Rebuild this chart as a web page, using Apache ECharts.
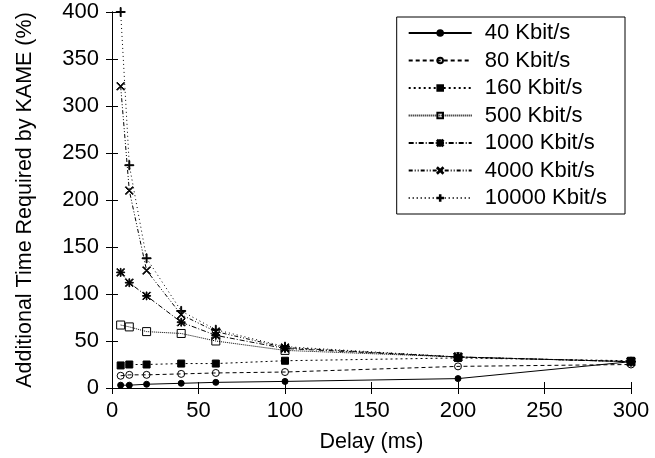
<!DOCTYPE html>
<html><head><meta charset="utf-8">
<script src="https://cdn.jsdelivr.net/npm/echarts@6/dist/echarts.min.js"></script>
<style>html,body{margin:0;padding:0;background:#fff}#c{width:655px;height:458px}</style>
</head><body><div id="c"></div>
<script>
// ---- data ----
const delays = [5, 10, 20, 40, 60, 100, 200, 300];
const seriesNames = ['40 Kbit/s', '80 Kbit/s', '160 Kbit/s', '500 Kbit/s', '1000 Kbit/s', '4000 Kbit/s', '10000 Kbit/s'];
const kbit40 = [3, 3, 4, 5, 6, 7, 10, 28];
const kbit80 = [13, 14, 14, 15, 16, 17, 23, 25];
const kbit160 = [24, 25, 25, 26, 26, 29, 32, 29];
const kbit500 = [67, 65, 60, 58, 50, 40, 33, 28];
const kbit1000 = [123, 112, 98, 70, 56, 42, 33, 28];
const kbit4000 = [321, 210, 125, 78, 60, 43, 33, 28];
const kbit10000 = [400, 237, 138, 82, 62, 44, 33, 28];
const xTicks = [0, 50, 100, 150, 200, 250, 300];
const yTicks = [0, 50, 100, 150, 200, 250, 300, 350, 400];
const xTitle = 'Delay (ms)';
const yTitle = 'Additional Time Required by KAME (%)';

// ---- styles ----
const FONT = '"Liberation Sans", Arial, Helvetica, sans-serif';
const P_X = 'path://M0,0.8L0.8,0L5,4.2L9.2,0L10,0.8L5.8,5L10,9.2L9.2,10L5,5.8L0.8,10L0,9.2L4.2,5Z';
const P_PLUS = 'path://M4.5,0L5.5,0L5.5,4.5L10,4.5L10,5.5L5.5,5.5L5.5,10L4.5,10L4.5,5.5L0,5.5L0,4.5L4.5,4.5Z';
const P_STAR = 'path://M0,0.8L0.8,0L5,4.2L9.2,0L10,0.8L5.8,5L10,9.2L9.2,10L5,5.8L0.8,10L0,9.2L4.2,5ZM4.5,0L5.5,0L5.5,4.5L10,4.5L10,5.5L5.5,5.5L5.5,10L4.5,10L4.5,5.5L0,5.5L0,4.5L4.5,4.5Z';
const styles = [
  {symbol: 'circle', size: 6, fill: '#000', dash: 'solid'},
  {symbol: 'circle', size: 7, fill: 'rgba(0,0,0,0)', dash: [4, 3]},
  {symbol: 'rect', size: 7, fill: '#000', dash: [2, 3]},
  {symbol: 'rect', size: 8, fill: 'rgba(0,0,0,0)', dash: [1, 1]},
  {symbol: P_STAR, size: 8, fill: '#000', dash: [5, 2, 1, 2]},
  {symbol: P_X, size: 8, fill: '#000', dash: [4, 2, 1, 2, 1, 2]},
  {symbol: P_PLUS, size: 9, fill: '#000', dash: [1, 3]}
];
const values = [kbit40, kbit80, kbit160, kbit500, kbit1000, kbit4000, kbit10000];

const axisCommon = {
  type: 'value',
  axisLine: {show: true, lineStyle: {color: '#000', width: 1}},
  axisTick: {show: true, inside: true, length: 6, lineStyle: {color: '#000', width: 1}},
  splitLine: {show: false},
  axisLabel: {color: '#000', fontSize: 22, fontFamily: FONT}
};
const xMin = xTicks[0], xMax = xTicks[xTicks.length - 1], xInt = xTicks[1] - xTicks[0];
const yMin = yTicks[0], yMax = yTicks[yTicks.length - 1], yInt = yTicks[1] - yTicks[0];

const chart = echarts.init(document.getElementById('c'), null, {renderer: 'canvas'});
chart.setOption({
  animation: false,
  backgroundColor: '#fff',
  grid: {left: 112, right: 24, top: 12, bottom: 70, containLabel: false},
  xAxis: [
    Object.assign({}, axisCommon, {
      position: 'bottom', min: xMin, max: xMax, interval: xInt,
      axisLabel: Object.assign({}, axisCommon.axisLabel, {margin: 12}),
      name: xTitle, nameLocation: 'middle', nameGap: 43,
      nameTextStyle: {color: '#000', fontSize: 21.5, fontFamily: FONT}
    }),
    Object.assign({}, axisCommon, {
      position: 'top', min: xMin, max: xMax, interval: xInt,
      axisLabel: {show: false}
    })
  ],
  yAxis: [
    Object.assign({}, axisCommon, {
      position: 'left', min: yMin, max: yMax, interval: yInt,
      axisLabel: Object.assign({}, axisCommon.axisLabel, {margin: 13}),
      name: yTitle, nameLocation: 'middle', nameGap: 76, nameRotate: 90,
      nameTextStyle: {color: '#000', fontSize: 21.5, fontFamily: FONT}
    }),
    Object.assign({}, axisCommon, {
      position: 'right', min: yMin, max: yMax, interval: yInt,
      axisLabel: {show: false}
    })
  ],
  legend: {
    data: seriesNames,
    orient: 'vertical',
    right: 30, top: 17,
    itemWidth: 63, itemHeight: 7, itemGap: 5.5,
    padding: [5, 18, 5, 11],
    borderColor: '#000', borderWidth: 1, borderRadius: 0,
    backgroundColor: '#fff',
    textStyle: {color: '#000', fontSize: 22, fontFamily: FONT, padding: [0, 0, 0, 8]},
    z: 10
  },
  series: values.map((vals, i) => ({
    name: seriesNames[i],
    type: 'line',
    xAxisIndex: 0, yAxisIndex: 0,
    data: delays.map((d, j) => [d, vals[j]]),
    symbol: styles[i].symbol,
    symbolSize: styles[i].size,
    symbolKeepAspect: true,
    showAllSymbol: true,
    clip: false,
    lineStyle: {color: '#000', width: 1, type: styles[i].dash},
    itemStyle: {color: styles[i].fill, borderColor: '#000', borderWidth: 1},
    emphasis: {disabled: true}
  }))
});
</script>
</body></html>
